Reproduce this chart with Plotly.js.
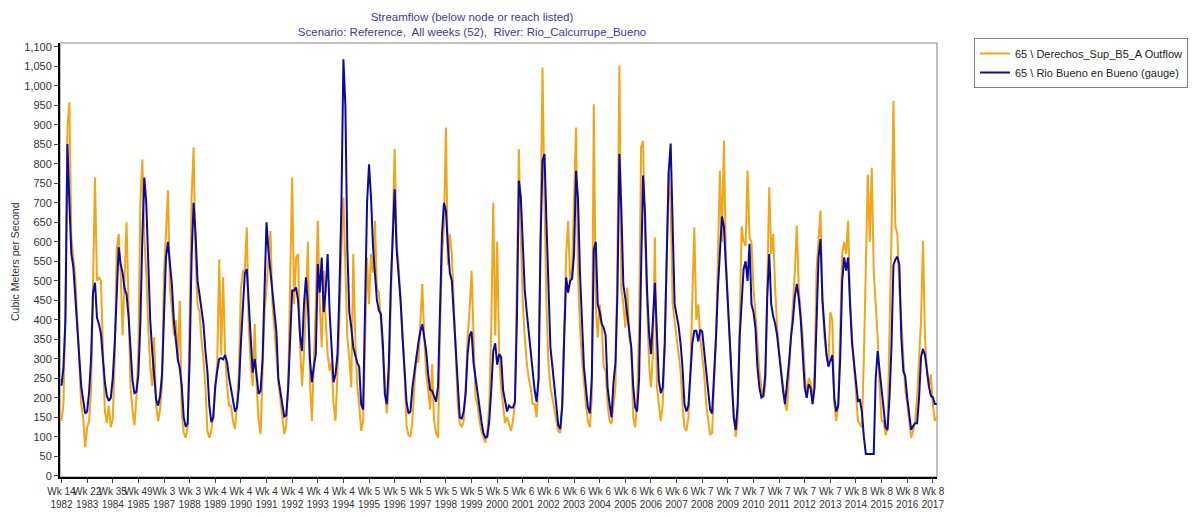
<!DOCTYPE html>
<html>
<head>
<meta charset="utf-8">
<script src="https://cdn.plot.ly/plotly-3.0.1.min.js"></script>
<style>html,body{margin:0;padding:0;background:#fff;}#chart{width:1196px;height:517px;}</style>
</head>
<body>
<div id="chart"></div>
<script>
// Tick labels (one tick per ~53 weeks, as in the source chart)
const tickWeeks = ['Wk 14','Wk 22','Wk 35','Wk 49','Wk 3','Wk 3','Wk 4','Wk 4','Wk 4','Wk 4','Wk 4','Wk 4',
  'Wk 5','Wk 5','Wk 5','Wk 5','Wk 5','Wk 5','Wk 6','Wk 6','Wk 6','Wk 6','Wk 6','Wk 6','Wk 6',
  'Wk 7','Wk 7','Wk 7','Wk 7','Wk 7','Wk 7','Wk 8','Wk 8','Wk 8','Wk 8'];
const tickYears = [1982,1983,1984,1985,1987,1988,1989,1990,1991,1992,1993,1994,1995,1996,1997,1998,1999,2000,
  2001,2002,2003,2004,2005,2006,2007,2008,2009,2010,2011,2012,2013,2014,2015,2016,2017];

// Series values (m3/s), ~4-weekly samples
const derechosOutflow = [
141,184,440,893,958,611,560,510,400,270,
184,150,73,124,140,220,500,765,500,509,
500,300,165,135,180,125,145,300,580,620,
520,360,500,650,440,227,170,130,200,320,
700,811,611,520,380,280,230,355,180,140,
170,230,520,620,732,480,430,360,400,290,
449,160,110,98,125,400,714,842,560,440,
420,350,300,230,115,98,115,160,230,290,
555,310,509,310,230,180,180,140,120,180,
270,480,525,530,637,380,285,230,389,230,
140,107,270,420,483,560,628,440,360,310,
240,190,140,107,130,240,500,765,440,560,
569,340,230,312,440,600,240,141,290,440,
654,440,330,526,398,312,269,290,184,141,
269,400,585,714,534,355,300,227,569,355,
230,184,115,140,340,560,440,569,520,654,
480,470,398,310,230,160,230,440,660,838,
600,540,450,355,270,130,105,100,141,230,
310,290,390,492,355,260,220,170,286,141,
110,98,370,560,645,893,540,620,569,440,
269,184,135,125,140,230,355,425,526,355,
200,184,141,115,98,85,115,184,380,700,
360,600,312,227,180,135,150,130,115,141,
184,500,838,611,440,355,290,250,227,184,
184,150,250,620,1047,700,440,290,227,200,
165,141,115,110,184,355,569,654,500,530,
697,893,520,380,300,230,184,141,125,200,
953,440,355,440,390,280,269,184,141,133,
184,227,560,1052,480,440,380,483,355,330,
150,124,200,380,842,859,611,440,290,227,
312,611,230,184,141,184,340,560,780,690,
440,398,360,320,270,184,124,115,150,270,
475,637,400,440,355,300,260,184,141,105,
110,230,355,569,782,600,859,560,440,355,
230,160,100,141,355,640,600,590,782,611,
600,480,420,330,269,227,200,230,480,740,
569,620,480,380,320,269,227,184,167,270,
355,440,526,641,480,420,355,269,200,250,
240,184,269,526,600,680,450,355,312,290,
420,400,184,141,184,355,569,600,569,654,
450,355,290,227,141,133,124,300,526,773,
600,790,526,440,355,227,141,141,105,120,
355,611,962,640,620,480,398,300,220,184,
141,98,115,141,200,312,398,603,355,269,
227,260,184,141,150];

const rioBuenoGauge = [
231,280,398,851,700,570,535,460,398,300,
230,195,160,165,215,300,470,495,405,389,
365,300,240,205,192,200,250,340,480,586,
543,520,480,465,410,312,245,212,215,260,
390,611,765,700,540,400,321,260,195,180,
205,260,398,560,600,540,490,398,350,300,
275,230,150,126,135,300,560,700,620,500,
465,420,390,320,269,180,138,150,230,269,
300,302,299,310,290,252,225,200,165,175,
227,340,430,520,530,450,355,265,300,260,
210,218,300,480,650,575,525,470,410,370,
250,210,184,152,155,227,355,475,475,483,
450,360,320,440,509,440,300,240,280,312,
543,470,560,420,475,569,420,320,240,260,
312,480,700,1068,950,580,420,380,330,310,
290,280,184,170,450,700,799,714,590,530,
450,425,415,340,210,184,280,483,620,735,
580,520,450,355,260,190,160,165,227,265,
310,340,370,389,355,320,260,220,218,201,
190,230,420,620,700,680,590,520,500,410,
312,235,150,147,165,210,312,360,370,290,
250,218,184,140,110,98,100,141,220,320,
340,285,312,305,220,190,165,180,175,175,
190,400,757,714,611,475,420,375,320,269,
220,190,250,600,808,825,650,460,330,280,
227,170,130,120,180,355,509,470,500,505,
570,782,710,520,390,280,227,175,160,250,
580,600,440,420,390,380,360,227,184,150,
240,290,470,825,680,490,455,410,360,330,
230,175,165,250,526,770,670,480,370,312,
398,495,370,245,212,227,340,560,780,852,
611,440,412,385,340,280,184,165,180,260,
340,372,372,345,375,370,320,269,220,170,
160,250,355,483,590,665,640,540,440,345,
230,150,118,184,355,460,530,550,500,595,
440,420,380,280,227,201,205,260,460,569,
440,410,390,360,310,269,220,184,230,290,
355,398,460,492,455,400,312,227,200,235,
225,184,227,400,560,607,450,380,312,280,
295,310,200,165,180,300,500,560,526,560,
440,340,290,235,192,195,165,100,56,56,
56,56,56,250,320,269,220,170,125,118,
200,330,540,555,562,540,355,269,255,200,
150,118,128,135,135,200,305,325,310,265,
230,205,201,184,184];

const SAMPLES_PER_TICK = 13;
const xIdx = rioBuenoGauge.map((_, i) => i);
const tickVals = tickWeeks.map((_, k) => k * SAMPLES_PER_TICK);
const tickText = tickWeeks.map((w, k) => w + '<br>' + tickYears[k]);

const FONT = 'Liberation Sans, Arial, sans-serif';

const traces = [
  {x: xIdx, y: derechosOutflow, type: 'scatter', mode: 'lines',
   name: '65 \\ Derechos_Sup_B5_A Outflow',
   line: {color: '#F2A516', width: 2}},
  {x: xIdx, y: rioBuenoGauge, type: 'scatter', mode: 'lines',
   name: '65 \\ Rio Bueno en Bueno (gauge)',
   line: {color: '#0A0AA0', width: 2}}
];

const layout = {
  width: 1196, height: 517,
  margin: {l: 60, r: 259, t: 43, b: 40, pad: 0},
  paper_bgcolor: '#ffffff', plot_bgcolor: '#ffffff',
  font: {family: FONT, size: 11, color: '#333333'},
  title: {
    text: 'Streamflow (below node or reach listed)<br>Scenario: Reference,&nbsp; All weeks (52),&nbsp; River: Rio_Calcurrupe_Bueno',
    font: {family: FONT, size: 11.5, color: '#3a3aa0'},
    xref: 'container', yref: 'container', x: 472/1196, xanchor: 'center', y: 1 - 21/517, yanchor: 'top'
  },
  showlegend: true,
  legend: {
    xref: 'container', yref: 'container', x: 974/1196, y: 1 - 38/517, xanchor: 'left', yanchor: 'top',
    bordercolor: '#808080', borderwidth: 1, bgcolor: '#ffffff',
    font: {family: FONT, size: 11, color: '#222222'}, itemwidth: 30, tracegroupgap: 0
  },
  xaxis: {
    range: [-0.76, 444.1], tickmode: 'array', tickvals: tickVals, ticktext: tickText, tickangle: 0,
    ticks: 'outside', ticklen: 4, tickwidth: 1, tickcolor: '#444',
    showline: true, linecolor: '#000', linewidth: 2, showgrid: false, zeroline: false,
    tickfont: {family: FONT, size: 10, color: '#333'}
  },
  yaxis: {
    range: [-3, 1110], tick0: 0, dtick: 50, tickformat: ',d',
    ticks: 'outside', ticklen: 4, tickwidth: 1, tickcolor: '#444',
    showline: true, linecolor: '#000', linewidth: 2, showgrid: false, zeroline: false,
    tickfont: {family: FONT, size: 11, color: '#333'}
  },
  shapes: [{type: 'rect', xref: 'paper', yref: 'paper', x0: 0, x1: 1, y0: 0, y1: 1,
            line: {color: '#808080', width: 1}, layer: 'below'}],
  annotations: [{text: 'Cubic Meters per Second', textangle: -90, xref: 'paper', yref: 'paper',
                 x: (15 - 60) / 877, y: (477 - 262) / 434, xanchor: 'center', yanchor: 'middle', showarrow: false,
                 font: {family: FONT, size: 10.5, color: '#333'}}]
};

Plotly.newPlot('chart', traces, layout, {displayModeBar: false, responsive: false});
</script>
</body>
</html>
